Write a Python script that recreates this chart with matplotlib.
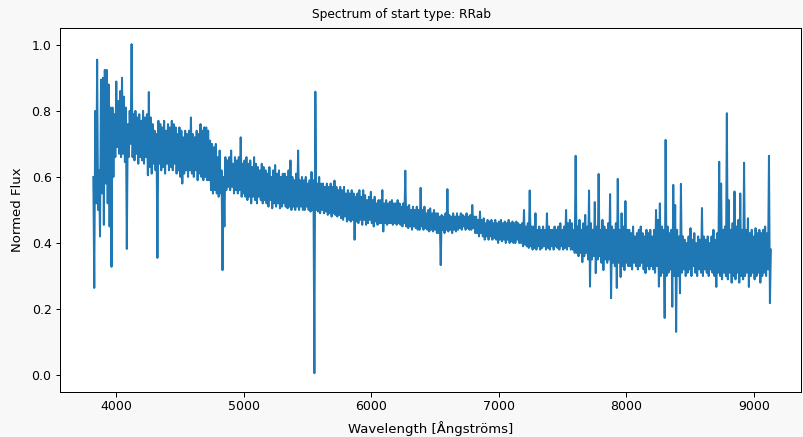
import numpy as np
import matplotlib
matplotlib.use('Agg')
import matplotlib.pyplot as plt

# Wavelength grid (Angstroms): first pixel and spacing of the hi / lo samples
wave_start = 3822
wave_step = 15

# Spectrum read off the plot as alternating samples:
# flux_hi = top of the noise band (emission spikes), at wave_start + 15*k
# flux_lo = bottom of the noise band (absorption lines), half a step later
# one row = 10 samples = 150 A
flux_hi = [
    0.60, 0.80, 0.955, 0.62, 0.894, 0.90, 0.924, 0.924, 0.88, 0.81,      # 3822
    0.81, 0.79, 0.889, 0.83, 0.86, 0.90, 0.843, 0.81, 0.76, 0.80,        # 3972
    1.002, 0.79, 0.80, 0.78, 0.79, 0.77, 0.80, 0.78, 0.79, 0.857,        # 4122
    0.78, 0.76, 0.74, 0.73, 0.77, 0.76, 0.75, 0.77, 0.74, 0.76,          # 4272
    0.75, 0.77, 0.76, 0.75, 0.73, 0.75, 0.74, 0.72, 0.74, 0.73,          # 4422
    0.74, 0.78, 0.73, 0.72, 0.74, 0.73, 0.76, 0.74, 0.75, 0.75,          # 4572
    0.74, 0.71, 0.70, 0.69, 0.70, 0.66, 0.68, 0.62, 0.60, 0.66,          # 4722
    0.65, 0.66, 0.68, 0.64, 0.66, 0.65, 0.66, 0.72, 0.64, 0.65,          # 4872
    0.66, 0.64, 0.65, 0.63, 0.66, 0.64, 0.63, 0.62, 0.64, 0.63,          # 5022
    0.62, 0.61, 0.63, 0.60, 0.62, 0.636, 0.61, 0.62, 0.60, 0.61,         # 5172
    0.61, 0.60, 0.62, 0.65, 0.60, 0.59, 0.61, 0.68, 0.59, 0.60,          # 5322
    0.59, 0.60, 0.58, 0.59, 0.615, 0.59, 0.858, 0.58, 0.60, 0.58,        # 5472
    0.58, 0.57, 0.58, 0.57, 0.58, 0.57, 0.589, 0.57, 0.56, 0.57,         # 5622
    0.56, 0.57, 0.55, 0.56, 0.55, 0.56, 0.55, 0.54, 0.55, 0.56,          # 5772
    0.54, 0.56, 0.545, 0.53, 0.54, 0.555, 0.53, 0.54, 0.52, 0.53,        # 5922
    0.53, 0.56, 0.52, 0.53, 0.52, 0.525, 0.53, 0.52, 0.52, 0.53,         # 6072
    0.52, 0.51, 0.52, 0.619, 0.51, 0.515, 0.50, 0.51, 0.50, 0.51,        # 6222
    0.50, 0.567, 0.50, 0.51, 0.49, 0.50, 0.505, 0.49, 0.50, 0.49,        # 6372
    0.49, 0.48, 0.485, 0.48, 0.49, 0.563, 0.485, 0.48, 0.49, 0.48,       # 6522
    0.49, 0.48, 0.49, 0.485, 0.48, 0.49, 0.48, 0.485, 0.515, 0.48,       # 6672
    0.48, 0.47, 0.495, 0.47, 0.475, 0.46, 0.47, 0.465, 0.47, 0.46,       # 6822
    0.47, 0.46, 0.465, 0.47, 0.46, 0.465, 0.46, 0.47, 0.46, 0.465,       # 6972
    0.46, 0.465, 0.46, 0.455, 0.46, 0.50, 0.45, 0.46, 0.559, 0.45,       # 7122
    0.45, 0.49, 0.44, 0.45, 0.44, 0.45, 0.44, 0.49, 0.45, 0.44,          # 7272
    0.44, 0.45, 0.44, 0.45, 0.46, 0.44, 0.45, 0.50, 0.46, 0.47,          # 7422
    0.46, 0.44, 0.664, 0.45, 0.47, 0.44, 0.46, 0.485, 0.45, 0.559,       # 7572
    0.46, 0.44, 0.524, 0.45, 0.609, 0.44, 0.47, 0.45, 0.44, 0.46,        # 7722
    0.548, 0.45, 0.44, 0.46, 0.594, 0.44, 0.49, 0.45, 0.527, 0.44,       # 7872
    0.44, 0.43, 0.45, 0.42, 0.43, 0.44, 0.45, 0.43, 0.42, 0.44,          # 8022
    0.43, 0.44, 0.42, 0.44, 0.50, 0.47, 0.52, 0.45, 0.44, 0.712,         # 8172
    0.45, 0.43, 0.44, 0.576, 0.515, 0.44, 0.42, 0.579, 0.42, 0.41,       # 8322
    0.40, 0.42, 0.445, 0.41, 0.43, 0.40, 0.42, 0.41, 0.506, 0.42,        # 8472
    0.41, 0.42, 0.40, 0.42, 0.44, 0.41, 0.43, 0.646, 0.58, 0.44,         # 8622
    0.45, 0.793, 0.53, 0.44, 0.46, 0.556, 0.45, 0.47, 0.55, 0.44,        # 8772
    0.643, 0.44, 0.475, 0.43, 0.44, 0.42, 0.445, 0.43, 0.44, 0.43,       # 8922
    0.44, 0.45, 0.43, 0.664, 0.38,                                       # 9072
]

flux_lo = [
    0.264, 0.52, 0.50, 0.42, 0.55, 0.455, 0.58, 0.52, 0.45, 0.328,       # 3829.5
    0.60, 0.66, 0.69, 0.67, 0.66, 0.67, 0.645, 0.382, 0.66, 0.70,        # 3979.5
    0.66, 0.65, 0.67, 0.64, 0.66, 0.65, 0.64, 0.66, 0.605, 0.63,         # 4129.5
    0.61, 0.64, 0.62, 0.355, 0.64, 0.62, 0.63, 0.61, 0.64, 0.62,         # 4279.5
    0.63, 0.62, 0.64, 0.61, 0.62, 0.60, 0.58, 0.61, 0.62, 0.60,          # 4429.5
    0.62, 0.61, 0.60, 0.62, 0.59, 0.61, 0.60, 0.59, 0.60, 0.59,          # 4579.5
    0.59, 0.56, 0.55, 0.56, 0.55, 0.54, 0.55, 0.318, 0.45, 0.56,         # 4729.5
    0.57, 0.56, 0.57, 0.55, 0.56, 0.55, 0.56, 0.54, 0.55, 0.54,          # 4879.5
    0.53, 0.54, 0.52, 0.54, 0.53, 0.52, 0.54, 0.53, 0.52, 0.53,          # 5029.5
    0.52, 0.51, 0.53, 0.505, 0.52, 0.51, 0.52, 0.505, 0.51, 0.52,        # 5179.5
    0.51, 0.505, 0.51, 0.50, 0.51, 0.50, 0.51, 0.50, 0.51, 0.50,         # 5329.5
    0.50, 0.51, 0.50, 0.495, 0.50, 0.006, 0.50, 0.495, 0.49, 0.50,       # 5479.5
    0.49, 0.495, 0.485, 0.49, 0.48, 0.49, 0.485, 0.48, 0.485, 0.475,     # 5629.5
    0.47, 0.48, 0.465, 0.47, 0.465, 0.47, 0.41, 0.465, 0.46, 0.47,       # 5779.5
    0.455, 0.47, 0.455, 0.46, 0.47, 0.46, 0.45, 0.465, 0.455, 0.46,      # 5929.5
    0.46, 0.435, 0.46, 0.455, 0.46, 0.46, 0.455, 0.46, 0.455, 0.46,      # 6079.5
    0.455, 0.45, 0.46, 0.45, 0.445, 0.45, 0.44, 0.45, 0.445, 0.44,       # 6229.5
    0.44, 0.45, 0.44, 0.445, 0.44, 0.435, 0.44, 0.435, 0.44, 0.43,       # 6379.5
    0.43, 0.333, 0.44, 0.43, 0.44, 0.435, 0.44, 0.43, 0.44, 0.435,       # 6529.5
    0.44, 0.445, 0.44, 0.45, 0.44, 0.445, 0.44, 0.44, 0.445, 0.43,       # 6679.5
    0.43, 0.42, 0.43, 0.42, 0.41, 0.42, 0.41, 0.42, 0.41, 0.415,         # 6829.5
    0.41, 0.40, 0.41, 0.405, 0.41, 0.40, 0.41, 0.40, 0.405, 0.40,        # 6979.5
    0.40, 0.41, 0.40, 0.40, 0.39, 0.395, 0.39, 0.385, 0.39, 0.38,        # 7129.5
    0.385, 0.38, 0.39, 0.38, 0.385, 0.39, 0.38, 0.385, 0.38, 0.39,       # 7279.5
    0.38, 0.39, 0.385, 0.38, 0.39, 0.38, 0.385, 0.38, 0.39, 0.38,        # 7429.5
    0.38, 0.37, 0.37, 0.36, 0.37, 0.342, 0.36, 0.37, 0.35, 0.268,        # 7579.5
    0.35, 0.36, 0.309, 0.35, 0.36, 0.34, 0.318, 0.35, 0.34, 0.35,        # 7729.5
    0.233, 0.34, 0.33, 0.264, 0.34, 0.297, 0.33, 0.318, 0.34, 0.33,      # 7879.5
    0.33, 0.32, 0.34, 0.33, 0.32, 0.33, 0.34, 0.32, 0.309, 0.33,         # 8029.5
    0.32, 0.33, 0.32, 0.31, 0.33, 0.268, 0.30, 0.31, 0.173, 0.30,        # 8179.5
    0.31, 0.32, 0.207, 0.30, 0.131, 0.30, 0.248, 0.31, 0.32, 0.30,       # 8329.5
    0.31, 0.32, 0.30, 0.33, 0.31, 0.30, 0.32, 0.31, 0.30, 0.32,          # 8479.5
    0.31, 0.30, 0.32, 0.31, 0.30, 0.267, 0.31, 0.30, 0.29, 0.31,         # 8629.5
    0.30, 0.29, 0.31, 0.28, 0.30, 0.29, 0.31, 0.28, 0.30, 0.29,          # 8779.5
    0.30, 0.31, 0.267, 0.30, 0.31, 0.29, 0.30, 0.31, 0.28, 0.30,         # 8929.5
    0.31, 0.30, 0.32, 0.218,                                             # 9079.5
]

star_type = 'RRab'

# put both sample sets on one wavelength axis, in order
wave_hi = wave_start + wave_step * np.arange(len(flux_hi))
wave_lo = wave_start + wave_step / 2 + wave_step * np.arange(len(flux_lo))
wave = np.concatenate([wave_hi, wave_lo])
flux = np.concatenate([flux_hi, flux_lo])
order = np.argsort(wave)
wave = wave[order]
flux = flux[order]

# figure at notebook resolution
fig = plt.figure(figsize=(803 / 72, 437 / 72), dpi=72, facecolor='#f8f8f8')
ax = fig.add_axes([0.0741, 0.1037, 0.9234, 0.8316])

ax.plot(wave, flux, color='#1f77b4', linewidth=2)

ax.set_xlim(3557, 9368)
ax.set_ylim(-0.05, 1.05)

# title sits in the middle of the figure, not of the axes
fig.suptitle('Spectrum of start type: ' + star_type, fontsize=12.2, x=0.5, y=0.967, va='center')
ax.set_xlabel('Wavelength [Ångströms]', fontsize=13.2, labelpad=8)
ax.set_ylabel('Normed Flux', fontsize=13.2, labelpad=8)
ax.tick_params(labelsize=12.5, length=4.5, width=1)
for spine in ax.spines.values():
    spine.set_linewidth(1)

fig.savefig('out.png', dpi=72, facecolor=fig.get_facecolor())
